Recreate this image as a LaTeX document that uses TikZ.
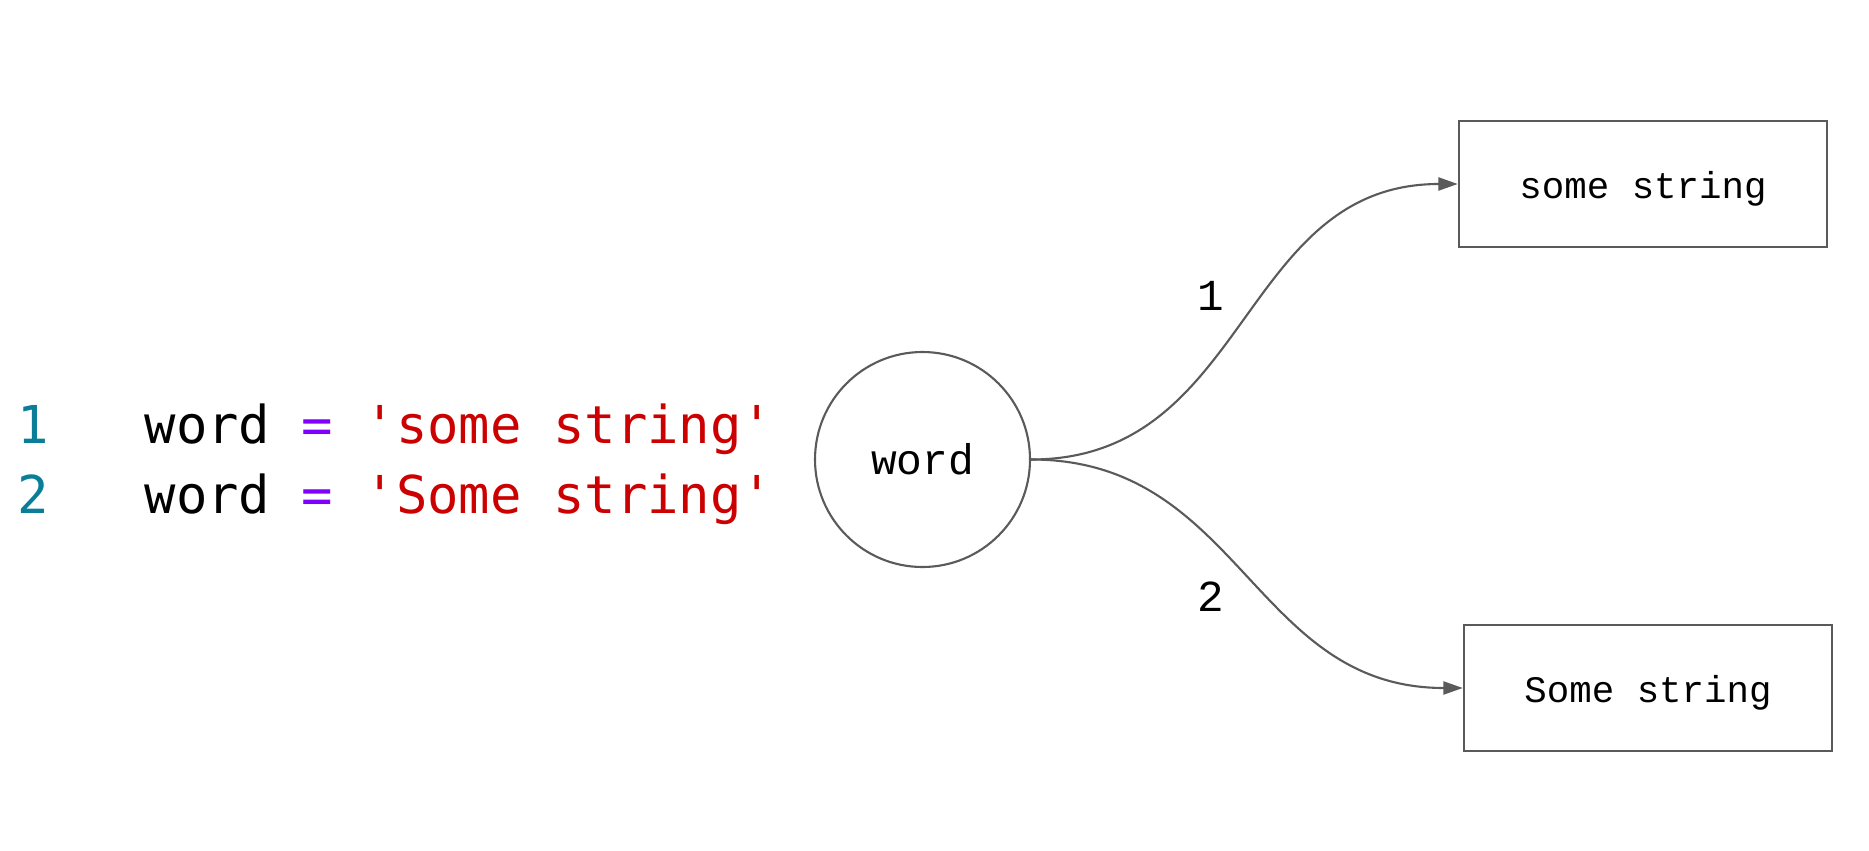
\documentclass[tikz,border=0pt]{standalone}
\usepackage{fontspec}
\usepackage{xcolor}
\usetikzlibrary{arrows.meta}
\newfontfamily\codefont{DejaVu Sans Mono}
\newfontfamily\boxfont{Liberation Mono}
\definecolor{lineno}{RGB}{10,125,152}
\definecolor{eqsign}{RGB}{128,0,255}
\definecolor{strred}{RGB}{204,0,0}
\definecolor{edgegray}{RGB}{90,90,90}

\begin{document}
\begin{tikzpicture}[x=0.1mm, y=-0.1mm,
    codeline/.style={anchor=base west, inner sep=0pt, font=\codefont\fontsize{14.85}{18}\selectfont},
    varnode/.style={circle, draw=edgegray, line width=0.6pt, minimum size=21.5mm, inner sep=0pt, font=\boxfont\fontsize{12.2}{14}\selectfont},
    valbox/.style={rectangle, draw=edgegray, line width=0.7pt, minimum width=36.8mm, minimum height=12.6mm, inner sep=0pt, text height=2.9mm, text depth=0mm, font=\boxfont\fontsize{10.65}{13}\selectfont},
    refarrow/.style={draw=edgegray, line width=0.6pt, -{Triangle[length=5.5pt,width=3.7pt]}},
    reflabel/.style={inner sep=0pt, font=\boxfont\fontsize{12.6}{14}\selectfont}]
  \useasboundingbox (0,0) rectangle (1869,851);
  % code lines
  \node[codeline, text=lineno] (num1) at (17,443) {1};
  \node[codeline, text=lineno] (num2) at (17,513) {2};
  \node[codeline] (code1) at (144,443) {word \textcolor{eqsign}{=} \textcolor{strred}{\textquotesingle some string\textquotesingle}};
  \node[codeline] (code2) at (144,513) {word \textcolor{eqsign}{=} \textcolor{strred}{\textquotesingle Some string\textquotesingle}};
  % variable and values
  \node[varnode] (word) at (922.5,459.5) {word};
  \node[valbox] (val1) at (1643,184) {some string};
  \node[valbox] (val2) at (1648,688) {Some string};
  % references
  \draw[refarrow] (word.east) to[out=0, in=180, looseness=1.1] (val1.west);
  \draw[refarrow] (word.east) to[out=0, in=180, looseness=1.1] (val2.west);
  \node[reflabel] (lab1) at (1211,296) {1};
  \node[reflabel] (lab2) at (1211,597) {2};
\end{tikzpicture}
\end{document}
